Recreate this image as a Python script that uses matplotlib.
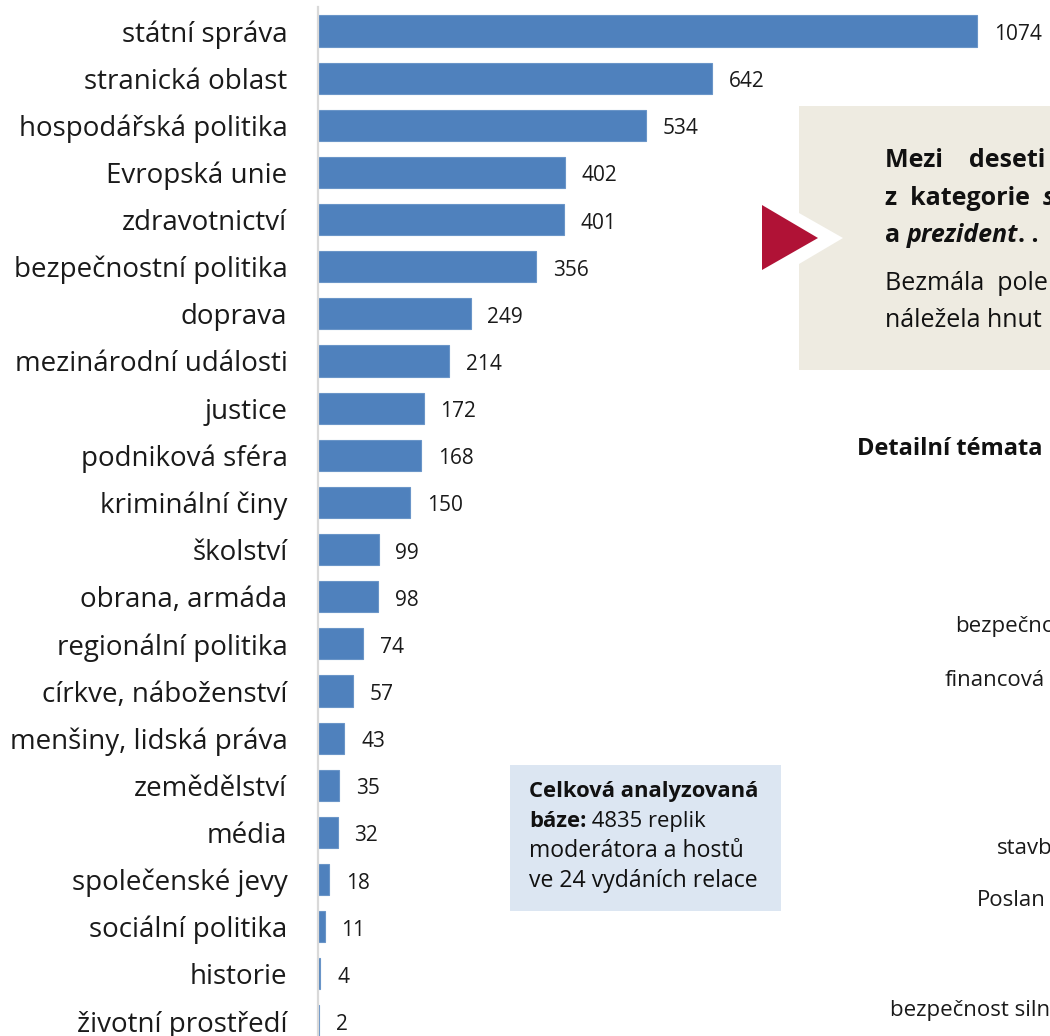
import matplotlib
matplotlib.use('Agg')
from matplotlib import pyplot as plt
from matplotlib.patches import Rectangle, Polygon
from matplotlib.text import Annotation

plt.rcParams['font.family'] = ['Open Sans', 'DejaVu Sans']

# data
categories = ['státní správa', 'stranická oblast', 'hospodářská politika', 'Evropská unie',
              'zdravotnictví', 'bezpečnostní politika', 'doprava', 'mezinárodní události',
              'justice', 'podniková sféra', 'kriminální činy', 'školství', 'obrana, armáda',
              'regionální politika', 'církve, náboženství', 'menšiny, lidská práva',
              'zemědělství', 'média', 'společenské jevy', 'sociální politika', 'historie',
              'životní prostředí']
values = [1074, 642, 534, 402, 401, 356, 249, 214, 172, 168, 150, 99, 98, 74, 57, 43,
          35, 32, 18, 11, 4, 2]

# cut-off labels of the second (detail) chart on the right
detail_labels = ['bezpečno', 'financová', 'stavb', 'Poslan', 'bezpečnost siln']

W, H = 1050, 1036
fig = plt.figure(figsize=(W / 100, H / 100), dpi=100)

def fx(px):
    return px / W

def fy(py):
    return 1 - py / H

# main axes, placed in pixel terms
ax_l, ax_r, ax_t, ax_b = 318, 1050, 7.4, 1044.6
ax = fig.add_axes([fx(ax_l), fy(ax_b), (ax_r - ax_l) / W, (ax_b - ax_t) / H])

ypos = list(range(len(categories)))
ax.barh(ypos, values, height=0.66, color='#4F81BD', edgecolor='#6A95C8', linewidth=0.8)
ax.set_ylim(len(categories) - 0.5, -0.5)
ax.set_xlim(0, (ax_r - ax_l) / 0.6136)
ax.set_yticks(ypos)
ax.set_yticklabels(categories, fontsize=20, color='#1a1a1a')
ax.tick_params(axis='y', length=0, pad=22)
ax.set_xticks([])
for s in ['top', 'right', 'bottom']:
    ax.spines[s].set_visible(False)
ax.spines['left'].set_color('#D9D9D9')
ax.spines['left'].set_linewidth(1.6)

for y, v in zip(ypos, values):
    ax.annotate(str(v), xy=(v, y), xytext=(12, -2.5), textcoords='offset points',
                va='center', ha='left', fontsize=15, color='#1a1a1a')

# beige comment box with arrow
fig.patches.append(Rectangle((fx(799), fy(370)), (W - 799) / W, (370 - 106) / H,
                             transform=fig.transFigure, facecolor='#EEEBE1',
                             edgecolor='none', zorder=1))
fig.patches.append(Polygon([(fx(799), fy(213)), (fx(843), fy(238)), (fx(799), fy(264))],
                           closed=True, transform=fig.transFigure, facecolor='white',
                           edgecolor='none', zorder=2))
fig.patches.append(Polygon([(fx(762), fy(205)), (fx(818), fy(238)), (fx(762), fy(270))],
                           closed=True, transform=fig.transFigure, facecolor='#B01236',
                           edgecolor='none', zorder=3))

def chain(x, y, pieces, size, color='#111111'):
    # pieces: (text, weight, style), drawn one after another on one baseline
    last = None
    for txt, wt, st in pieces:
        if last is None:
            last = fig.text(fx(x), fy(y), txt, fontsize=size, weight=wt, style=st,
                            va='baseline', ha='left', color=color, zorder=5)
        else:
            a = Annotation(txt, xy=(1, 0), xycoords=last, va='bottom', ha='left',
                           fontsize=size, weight=wt, style=st, color=color,
                           annotation_clip=False, zorder=5)
            fig.add_artist(a)
            last = a
    return last

chain(885, 167, [('Mezi    deseti', 'bold', 'normal')], 18)
chain(885, 205, [('z  kategorie  ', 'bold', 'normal'), ('s', 'bold', 'italic')], 18)
chain(885, 242, [('a ', 'bold', 'normal'), ('prezident', 'bold', 'italic'),
                 ('. .', 'bold', 'normal')], 18)
chain(885, 290, [('Bezmála  pole', 'normal', 'normal')], 18)
chain(885, 327, [('náležela hnut', 'normal', 'normal')], 18)

fig.text(fx(857), fy(455), 'Detailní témata', fontsize=17, weight='bold',
         va='baseline', ha='left', color='#111111')

detail_x = [955, 945, 997, 977, 890]
detail_y = [632, 686, 854, 906, 1016]
for lbl, x, y in zip(detail_labels, detail_x, detail_y):
    fig.text(fx(x), fy(y), lbl, fontsize=16, va='baseline', ha='left', color='#1a1a1a')

# blue info box
fig.patches.append(Rectangle((fx(510), fy(911)), (781 - 510) / W, (911 - 765) / H,
                             transform=fig.transFigure, facecolor='#DCE6F2',
                             edgecolor='none', zorder=1))
chain(529, 797, [('Celková analyzovaná', 'bold', 'normal')], 15.8)
chain(529, 827, [('báze:', 'bold', 'normal'), (' 4835 replik', 'normal', 'normal')], 15.8)
chain(529, 857, [('moderátora a hostů', 'normal', 'normal')], 16.6)
chain(529, 887, [('ve 24 vydáních relace', 'normal', 'normal')], 16.6)

fig.savefig('out.png', dpi=100)
